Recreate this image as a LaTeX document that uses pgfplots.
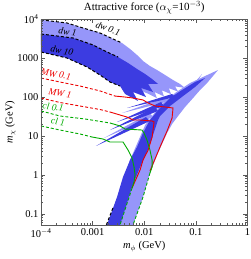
\documentclass[border=0pt]{standalone}
\usepackage{pgfplots}
\pgfplotsset{compat=1.18}
\usepackage{fontspec}
\setmainfont{Liberation Serif}
\definecolor{lightb}{RGB}{150,150,250}
\definecolor{darkb}{RGB}{60,60,225}
\definecolor{myred}{RGB}{235,0,0}
\definecolor{mygreen}{RGB}{0,170,0}
\definecolor{frame}{RGB}{90,90,90}
\begin{document}
\begin{tikzpicture}
\begin{axis}[
  scale only axis, width=206.5pt, height=205.3pt,
  xmode=log, ymode=log,
  xmin=1e-4, xmax=1, ymin=0.052, ymax=1e4,
  axis on top,
  axis line style={frame, line width=0.5pt},
  tick style={frame, line width=0.4pt},
  tick align=inside,
  major tick length=4pt, minor tick length=2pt,
  xtick={1e-4,1e-3,1e-2,1e-1,1},
  xticklabels={10\textsuperscript{$-$4},0.001,0.01,0.1,1},
  ytick={0.1,1,10,100,1000,10000},
  yticklabels={0.1,1,10,100,1000,10\textsuperscript{4}},
  minor xtick={2e-4,3e-4,4e-4,5e-4,6e-4,7e-4,8e-4,9e-4,2e-3,3e-3,4e-3,5e-3,6e-3,7e-3,8e-3,9e-3,2e-2,3e-2,4e-2,5e-2,6e-2,7e-2,8e-2,9e-2,0.2,0.3,0.4,0.5,0.6,0.7,0.8,0.9},
  minor ytick={0.06,0.07,0.08,0.09,0.2,0.3,0.4,0.5,0.6,0.7,0.8,0.9,2,3,4,5,6,7,8,9,20,30,40,50,60,70,80,90,200,300,400,500,600,700,800,900,2000,3000,4000,5000,6000,7000,8000,9000},
  tick label style={font=\fontsize{10.5}{11}\selectfont},
  yticklabel style={xshift=1pt},
  title={Attractive force ($\alpha_\chi$=10$^{-3}$)},
  title style={font=\fontsize{11}{12}\selectfont, yshift=-4pt},
  xlabel={\textit{m}$_\phi$ (GeV)},
  ylabel={\textit{m}$_\chi$ (GeV)},
  label style={font=\fontsize{10.5}{11}\selectfont},
  xlabel style={yshift=3pt},
  ylabel shift=-5pt,
]
% light upper band
\addplot[fill=lightb, draw=none, forget plot] coordinates {
(1e-4,9800) (3.19e-4,8130) (6.52e-4,6040) (1.39e-3,4500) (2.49e-3,3150) (3.72e-3,2480)
(5.31e-3,1740) (7.25e-3,1220) (9.48e-3,855) (1.29e-2,635) (1.77e-2,501) (2.53e-2,373)
(3.61e-2,277) (4.94e-2,219) (6.18e-2,173) (3.95e-2,190) (4.52e-2,140) (3.00e-2,170)
(3.30e-2,120) (2.20e-2,150) (2.40e-2,105) (1.60e-2,135) (1.75e-2,95) (1.15e-2,125) (8.30e-3,150) (3.40e-3,373) (1e-4,2210)
} -- cycle;
% light right band
\addplot[fill=lightb, draw=none, forget plot] coordinates {
(2.17e-3,0.052) (6.07e-3,0.052) (9.48e-3,0.270) (1.29e-2,1.12) (1.85e-2,3.66) (2.77e-2,12.0)
(3.46e-2,20.4) (4.52e-2,32.8) (6.18e-2,56.0) (8.83e-2,95.3) (0.1205,153) (0.165,232) (0.269,501)
(0.1507,351) (7.73e-2,232) (3.95e-2,128) (2.02e-2,59.3) (1.04e-2,19.2) (5.31e-3,2.42) (2.72e-3,0.168)
} -- cycle;
% light spikes
\addplot[fill=lightb, draw=none, forget plot] coordinates {(0.1318,395) (7.06e-2,153) (8.83e-2,173)} -- cycle;
\addplot[fill=lightb, draw=none, forget plot] coordinates {(1.66e-3,8.91) (1.29e-2,39.2) (1.48e-2,30.9)} -- cycle;
\addplot[fill=lightb, draw=none, forget plot] coordinates {(3.72e-3,39.2) (2.77e-2,101) (3.16e-2,79.8)} -- cycle;
% dark upper band
\addplot[fill=darkb, draw=none, forget plot] coordinates {
(1e-4,4240) (4.17e-4,3340) (1.02e-3,2210) (1.90e-3,1460) (3.11e-3,1080) (4.85e-3,759)
(7.25e-3,532) (1.04e-2,395) (1.42e-2,294) (1.85e-2,219) (1.19e-2,219) (1.48e-2,136)
(8.67e-3,173) (1.08e-2,101) (6.07e-3,136) (7.59e-3,79.8) (4.25e-3,121)
(3.40e-3,194) (2.17e-3,246) (1.39e-3,373) (7.79e-4,599) (3.19e-4,1020) (1e-4,1460)
} -- cycle;
% dark right band
\addplot[fill=darkb, draw=none, forget plot] coordinates {
(1.90e-3,0.052) (2.97e-3,0.270) (3.88e-3,0.883) (5.31e-3,2.42) (7.25e-3,5.22) (9.48e-3,12.0)
(1.29e-2,25.9) (2.02e-2,52.7) (3.16e-2,95.3) (5.40e-2,153) (9.64e-2,246) (0.1507,312)
(9.64e-2,183) (5.65e-2,107) (3.16e-2,59.3) (2.02e-2,32.8) (1.85e-2,25.9) (1.48e-2,10.6)
(1.13e-2,3.88) (8.30e-3,1.60) (5.81e-3,0.489) (3.40e-3,0.052)
} -- cycle;
% dark spikes
\addplot[fill=darkb, draw=none, forget plot] coordinates {(1.16e-3,5.55) (1.08e-2,30.9) (1.29e-2,24.4)} -- cycle;
\addplot[fill=darkb, draw=none, forget plot] coordinates {(2.17e-3,14.3) (1.62e-2,56.0) (1.85e-2,44.2)} -- cycle;
\addplot[fill=darkb, draw=none, forget plot] coordinates {(2.97e-3,23.0) (2.12e-2,75.2) (2.42e-2,59.3)} -- cycle;
\addplot[fill=darkb, draw=none, forget plot] coordinates {(4.64e-3,52.7) (3.46e-2,121) (3.95e-2,101)} -- cycle;
% black dashed
\addplot[black, line width=1pt, dash pattern=on 3pt off 2pt] coordinates {
(1e-4,9800) (3.19e-4,8130) (6.52e-4,6040) (1.39e-3,4500) (2.49e-3,3150) (3.72e-3,2480)};
\addplot[black, line width=1pt, dash pattern=on 3pt off 2pt] coordinates {
(1e-4,4240) (4.17e-4,3340) (1.02e-3,2210) (1.90e-3,1460) (3.11e-3,1080)};
\addplot[black, line width=1pt, dash pattern=on 3pt off 2pt] coordinates {
(1e-4,1460) (3.19e-4,1020) (7.79e-4,599) (1.39e-3,373) (2.17e-3,246) (3.40e-3,194)};
\addplot[black, line width=1pt, dash pattern=on 3pt off 2pt] coordinates {
(1.85e-3,0.052) (2.52e-3,0.15)};
% MW 0.1
\addplot[myred, line width=0.9pt, dash pattern=on 3pt off 2pt] coordinates {
(1e-4,312) (2.33e-4,246) (5.70e-4,194) (1.39e-3,145) (2.72e-3,107)};
\addplot[myred, line width=0.9pt] coordinates {
(2.72e-3,107) (4.25e-3,101) (6.07e-3,95.3) (9.48e-3,84.7) (1.19e-2,71.0) (1.62e-2,59.3)
(2.53e-2,56.0) (3.61e-2,52.7) (3.46e-2,29.2) (2.77e-2,13.5) (2.02e-2,5.22) (1.29e-2,1.26)};
% MW 1
\addplot[myred, line width=0.9pt, dash pattern=on 3pt off 2pt] coordinates {
(1e-4,95.3) (2.33e-4,73.1) (5.70e-4,59.3) (1.39e-3,48.2) (2.17e-3,41.6)};
\addplot[myred, line width=0.9pt] coordinates {
(2.17e-3,41.6) (3.40e-3,34.8) (4.64e-3,30.9) (6.07e-3,25.9) (8.30e-3,25.9) (1.42e-2,24.4)
(1.55e-2,23.0) (1.42e-2,9.46) (1.19e-2,4.37) (9.48e-3,2.42) (8.30e-3,1.34) (5.81e-3,0.460)};
% cl 0.1
\addplot[mygreen, line width=0.9pt, dash pattern=on 3pt off 2pt] coordinates {
(1e-4,44.2) (2.33e-4,32.8) (7.12e-4,27.5) (2.17e-3,21.7)};
\addplot[mygreen, line width=0.9pt] coordinates {
(2.17e-3,21.7) (3.40e-3,18.2) (4.25e-3,15.2) (9.06e-3,14.3) (9.91e-3,12.0) (1.13e-2,7.91)
(1.29e-2,4.37) (1.42e-2,2.42) (1.42e-2,1.60) (1.29e-2,1.12)};
\addplot[mygreen, line width=0.9pt, dash pattern=on 3pt off 2pt] coordinates {
(1.29e-2,1.12) (9.48e-3,0.27) (6.07e-3,0.052)};
% cl 1
\addplot[mygreen, line width=0.9pt, dash pattern=on 3pt off 2pt] coordinates {
(1e-4,18.2) (2.33e-4,14.3) (5.70e-4,11.3) (9.73e-4,9.46)};
\addplot[mygreen, line width=0.9pt] coordinates {
(9.73e-4,9.46) (1.59e-3,8.39) (2.17e-3,7.03) (3.88e-3,7.03) (4.85e-3,4.37) (5.81e-3,2.72)
(6.34e-3,1.60) (6.64e-3,1.00) (6.34e-3,0.656) (5.81e-3,0.460)};
\addplot[mygreen, line width=0.9pt, dash pattern=on 3pt off 2pt] coordinates {
(5.81e-3,0.460) (3.40e-3,0.052)};
% labels
\node[rotate=-20, font=\fontsize{9.5}{10}\selectfont] at (axis cs:1.99e-3,5900) {\textit{dw 0.1}};
\node[rotate=-8, font=\fontsize{9.5}{10}\selectfont] at (axis cs:3.28e-4,4900) {\textit{dw 1}};
\node[rotate=-12, font=\fontsize{9.5}{10}\selectfont] at (axis cs:2.55e-4,1600) {\textit{dw 10}};
\node[rotate=-10, text=myred, font=\fontsize{9.5}{10}\selectfont] at (axis cs:1.95e-4,390) {\textit{MW 0.1}};
\node[rotate=-10, text=myred, font=\fontsize{9.5}{10}\selectfont] at (axis cs:2.33e-4,125) {\textit{MW 1}};
\node[rotate=-8, text=mygreen, font=\fontsize{9.5}{10}\selectfont] at (axis cs:1.71e-4,56.0) {\textit{cl 0.1}};
\node[rotate=-8, text=mygreen, font=\fontsize{9.5}{10}\selectfont] at (axis cs:2.13e-4,23.5) {\textit{cl 1}};
\end{axis}
\pgfresetboundingbox
\useasboundingbox (-41pt,-34.2pt) rectangle (209pt,224.8pt);
\end{tikzpicture}
\end{document}
